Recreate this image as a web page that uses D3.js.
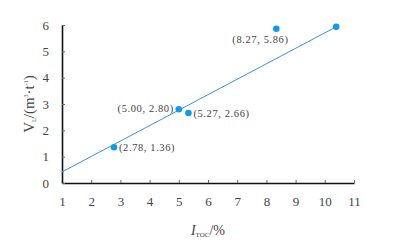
<!DOCTYPE html>
<html>
<head>
<meta charset="utf-8">
<script src="https://cdn.jsdelivr.net/npm/d3@7"></script>
<style>
  body { margin: 0; background: #fff; }
  svg text { font-family: "Liberation Serif", "DejaVu Serif", serif; fill: #444; }
</style>
</head>
<body>
<svg id="chart" width="408" height="248"></svg>
<script>
// data
const xVals = [2.78, 5.00, 5.33, 8.34, 10.39];
const yVals = [1.36, 2.80, 2.66, 5.86, 5.93];
const pointLabels = ["(2.78, 1.36)", "(5.00, 2.80)", "(5.27, 2.66)", "(8.27, 5.86)", ""];
const fitX = [1, 10.39];
const fitY = [0.42, 5.93];
const xTicks = [1, 2, 3, 4, 5, 6, 7, 8, 9, 10, 11];
const yTicks = [0, 1, 2, 3, 4, 5, 6];

const svg = d3.select("#chart");
const x = d3.scaleLinear().domain([1, 11]).range([62, 354]);
const y = d3.scaleLinear().domain([0, 6]).range([183, 25]);

// axes, ticks pointing inward
const xAxis = svg.append("g")
  .attr("transform", `translate(0,${y(0)})`)
  .call(d3.axisBottom(x).tickValues(xTicks).tickFormat(d3.format("d"))
    .tickSize(-3).tickPadding(14).tickSizeOuter(0));
const yAxis = svg.append("g")
  .attr("transform", `translate(${x(1)},0)`)
  .call(d3.axisLeft(y).tickValues(yTicks).tickFormat(d3.format("d"))
    .tickSize(-3).tickPadding(13).tickSizeOuter(0));

[xAxis, yAxis].forEach(g => {
  g.select(".domain").attr("stroke", "#111").attr("stroke-width", 1.6);
  g.selectAll(".tick line").attr("stroke", "#666");
  g.selectAll(".tick text").attr("font-size", 13).style("fill", "#444");
});

// fit line
const pts = xVals.map((v, i) => ({ x: v, y: yVals[i], label: pointLabels[i] }));
svg.append("line")
  .attr("x1", x(fitX[0])).attr("y1", y(fitY[0]))
  .attr("x2", x(fitX[1])).attr("y2", y(fitY[1]))
  .attr("stroke", "#3a95d5").attr("stroke-width", 1);

// points
svg.selectAll("circle.pt")
  .data(pts)
  .enter()
  .append("circle")
  .attr("class", "pt")
  .attr("cx", d => x(d.x))
  .attr("cy", d => y(d.y))
  .attr("r", 3.3)
  .attr("fill", "#109be6");

// labels: offset per point (right, left, right, below-left)
const offs = [[5, 4, "start"], [-5, 3, "end"], [5, 4, "start"], [-44, 14, "start"], [0, 0, "start"]];
svg.selectAll("text.lbl")
  .data(pts)
  .enter()
  .append("text")
  .attr("class", "lbl")
  .attr("x", (d, i) => x(d.x) + offs[i][0])
  .attr("y", (d, i) => y(d.y) + offs[i][1])
  .attr("text-anchor", (d, i) => offs[i][2])
  .attr("font-size", 10.5)
  .attr("letter-spacing", 0.6)
  .text(d => d.label);

// x axis title
const xt = svg.append("text")
  .attr("x", 208).attr("y", 235)
  .attr("text-anchor", "middle")
  .attr("font-size", 14);
xt.append("tspan").attr("font-style", "italic").text("I");
xt.append("tspan").attr("font-size", 7).attr("dy", 2).text("TOC");
xt.append("tspan").attr("dy", -2).text("/%");

// y axis title
const yt = svg.append("text")
  .attr("transform", "translate(34,104) rotate(-90)")
  .attr("text-anchor", "middle")
  .attr("font-size", 15);
yt.append("tspan").text("V");
yt.append("tspan").attr("font-size", 6).attr("dy", 2).text("L");
yt.append("tspan").attr("dy", -2).text("/(m");
yt.append("tspan").attr("font-size", 6).attr("dy", -6).text("3");
yt.append("tspan").attr("dy", 6).text("·t");
yt.append("tspan").attr("font-size", 6).attr("dy", -6).text("-1");
yt.append("tspan").attr("dy", 6).text(")");
</script>
</body>
</html>
